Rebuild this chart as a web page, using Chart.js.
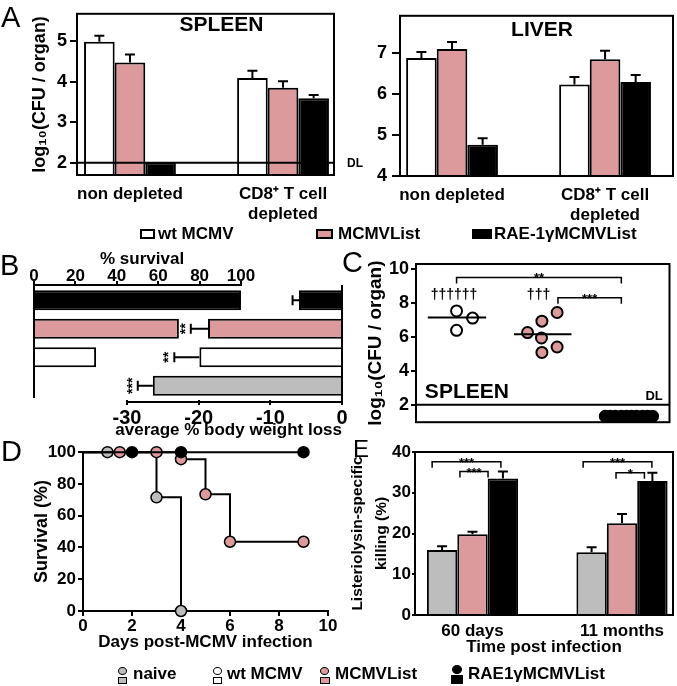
<!DOCTYPE html>
<html>
<head>
<meta charset="utf-8">
<script src="https://cdn.jsdelivr.net/npm/chart.js@4.4.0/dist/chart.umd.min.js"></script>
<style>
  html, body { margin: 0; padding: 0; background: #fff; }
  #page { position: relative; width: 677px; height: 686px; overflow: hidden;
          font-family: 'Liberation Sans', Arial, sans-serif; font-weight: bold; color: #000; }
  canvas { position: absolute; }
  .t { position: absolute; white-space: nowrap; font-size: 17px; line-height: 17px; }
  .letter { position: absolute; font-weight: normal; font-size: 29px; line-height: 29px; }
  .box { position: absolute; box-sizing: border-box; border: 2px solid #000; }
  .dot { position: absolute; box-sizing: border-box; border: 1.5px solid #000; border-radius: 50%; }
  .sq { position: absolute; box-sizing: border-box; border: 1.5px solid #000; }
</style>
</head>
<body>
<div id="page">
  <canvas id="spleen" width="365" height="225" style="left:0;top:0"></canvas>
  <canvas id="liver" width="312" height="225" style="left:365px;top:0"></canvas>
  <canvas id="panelB" width="355" height="200" style="left:0;top:245px"></canvas>
  <canvas id="panelC" width="337" height="185" style="left:340px;top:250px"></canvas>
  <canvas id="panelD" width="345" height="220" style="left:0;top:440px"></canvas>
  <canvas id="panelE" width="337" height="220" style="left:340px;top:440px"></canvas>

  <div class="letter" style="left:1px;top:3px">A</div>
  <div class="letter" style="left:0;top:251px">B</div>
  <div class="letter" style="left:342px;top:248px">C</div>
  <div class="letter" style="left:1px;top:437px">D</div>
  <div class="letter" style="left:353px;top:437px;font-size:24px;line-height:24px">E</div>

  <!-- legend for A -->
  <div class="box" style="left:140px;top:229px;width:15px;height:10px;background:#fff"></div>
  <div class="t" style="left:158px;top:225px">wt MCMV</div>
  <div class="box" style="left:316px;top:229px;width:17px;height:10px;background:#dc9a9c"></div>
  <div class="t" style="left:338px;top:225px">MCMVList</div>
  <div class="box" style="left:472px;top:229px;width:20px;height:10px;background:#000"></div>
  <div class="t" style="left:494px;top:225px">RAE-1γMCMVList</div>

  <div class="t" style="left:100px;top:250px">% survival</div>

  <!-- legend for B-E -->
  <div class="dot" style="left:118px;top:667px;width:9px;height:8px;background:#bdbdbd"></div>
  <div class="sq" style="left:118px;top:677px;width:9px;height:7px;background:#bdbdbd"></div>
  <div class="t" style="left:133px;top:665px">naive</div>
  <div class="dot" style="left:213px;top:667px;width:9px;height:8px;background:#fff"></div>
  <div class="sq" style="left:213px;top:677px;width:9px;height:7px;background:#fff"></div>
  <div class="t" style="left:227px;top:665px">wt MCMV</div>
  <div class="dot" style="left:320px;top:667px;width:9px;height:8px;background:#dc9a9c"></div>
  <div class="sq" style="left:320px;top:677px;width:10px;height:7px;background:#dc9a9c"></div>
  <div class="t" style="left:335px;top:665px">MCMVList</div>
  <div class="dot" style="left:452px;top:665px;width:10px;height:9px;background:#000"></div>
  <div class="sq" style="left:451px;top:675px;width:12px;height:9px;background:#000"></div>
  <div class="t" style="left:468px;top:665px">RAE1γMCMVList</div>
</div>

<script>
const FONT = "'Liberation Sans', Arial, sans-serif";
Chart.defaults.font.family = FONT;
Chart.defaults.font.size = 17;
Chart.defaults.font.weight = 'bold';
Chart.defaults.color = '#000';
Chart.defaults.animation = false;
Chart.defaults.responsive = false;
Chart.defaults.plugins.legend.display = false;
Chart.defaults.plugins.tooltip.enabled = false;

const white = '#ffffff';
const pink = '#dc9a9c';
const black = '#000000';
const grey = '#bdbdbd';

// A: virus titres, spleen and liver
const aGroups = ['non depleted', ['CD8\u207A T cell', 'depleted']];
const groupPos = [0, 1];
const spleenWt = [4.98, 4.09];
const spleenWtErr = [0.15, 0.18];
const spleenList = [4.47, 3.85];
const spleenListErr = [0.2, 0.16];
const spleenRae = [2.0, 3.59];
const spleenRaeErr = [0, 0.08];
const spleenTicks = [2, 3, 4, 5];
const spleenDL = 2;

const liverWt = [6.87, 6.23];
const liverWtErr = [0.15, 0.18];
const liverList = [7.09, 6.84];
const liverListErr = [0.17, 0.21];
const liverRae = [4.76, 6.29];
const liverRaeErr = [0.16, 0.17];
const liverTicks = [4, 5, 6, 7];

// B: survival (%) and average body weight loss (%)
const bGroups = ['RAE-1\u03B3MCMVList', 'MCMVList', 'wt MCMV', 'naive'];
const bColors = [black, pink, white, grey];
const bSurvival = [100, 70, 30, 0];
const bWeightLoss = [-6.0, -18.7, -19.9, -26.4];
const bWeightErr = [0.9, 2.4, 3.5, 2.1];
const bStars = ['', '**', '**', '***'];
const bSurvivalTicks = [0, 20, 40, 60, 80, 100];
const bWeightTicks = [-30, -20, -10, 0];

// C: spleen titres, individual mice
const cWtX = [0.98, 1.17, 0.98];
const cWtY = [7.52, 7.10, 6.38];
const cListX = [1.82, 1.99, 2.17, 1.985, 2.17, 1.99];
const cListY = [6.25, 6.92, 7.43, 5.93, 5.40, 5.08];
const cRaeX = [2.74, 2.80, 2.86, 2.93, 2.99, 3.05, 3.11, 3.18, 3.24, 3.30];
const cRaeY = [1.33, 1.33, 1.33, 1.33, 1.33, 1.33, 1.33, 1.33, 1.33, 1.33];
const cMedianWt = { x: [0.64, 1.33], y: 7.14 };
const cMedianList = { x: [1.66, 2.34], y: 6.15 };
const cTicks = [2, 4, 6, 8, 10];
const cDL = 2;

// D: survival curves
const dRaeDay = [0, 2, 4, 9];
const dRaeSurv = [100, 100, 100, 100];
const dListDay = [0, 1.5, 3, 4, 5, 6, 9];
const dListSurv = [100, 100, 100, 95.6, 73.5, 43.6, 43.6];
const dNaiveDay = [0, 1, 3, 4];
const dNaiveSurv = [100, 100, 71.6, 0];
const dDayTicks = [0, 2, 4, 6, 8, 10];
const dSurvTicks = [0, 20, 40, 60, 80, 100];

// E: listeriolysin-specific killing (%)
const eGroups = ['60 days', '11 months'];
const eNaive = [15.95, 15.4];
const eNaiveErr = [0.95, 1.2];
const eList = [19.8, 22.5];
const eListErr = [0.65, 2.3];
const eRae = [33.5, 32.9];
const eRaeErr = [1.7, 2.0];
const eTicks = [0, 10, 20, 30, 40];

function xy(xs, ys) { return xs.map((x, i) => ({ x: x, y: ys[i] })); }
function fixTicks(values) { return s => { s.ticks = values.map(v => ({ value: v })); }; }
function fixWidth(w) { return s => { s.width = w; }; }
function fixHeight(h) { return s => { s.height = h; }; }

// error bars, detection limits, frames, brackets and notes
const figure = {
  id: 'figure',
  afterDatasetsDraw(chart, args, o) {
    const ctx = chart.ctx, a = chart.chartArea;
    const sx = chart.scales.x, sy = chart.scales.y;
    ctx.save();
    ctx.strokeStyle = '#000';
    ctx.fillStyle = '#000';
    ctx.lineWidth = 2;
    (o.hlines || []).forEach(v => {
      const y = sy.getPixelForValue(v);
      ctx.beginPath(); ctx.moveTo(a.left, y); ctx.lineTo(a.right, y); ctx.stroke();
    });
    (o.errors || []).forEach((errs, di) => {
      if (!errs) return;
      const meta = chart.getDatasetMeta(di);
      const ds = chart.data.datasets[di];
      meta.data.forEach((el, j) => {
        const e = errs[j];
        if (!e) return;
        ctx.beginPath();
        if (o.horizontal) {
          const end = chart.scales[meta.xAxisID].getPixelForValue(ds.data[j] - e);
          ctx.moveTo(el.x, el.y); ctx.lineTo(end, el.y);
          ctx.moveTo(end, el.y - 5); ctx.lineTo(end, el.y + 5);
        } else {
          const end = sy.getPixelForValue(ds.data[j].y + e);
          ctx.moveTo(el.x, el.y); ctx.lineTo(el.x, end);
          ctx.moveTo(el.x - 5, end); ctx.lineTo(el.x + 5, end);
        }
        ctx.stroke();
      });
    });
    if (o.frame) ctx.strokeRect(a.left, a.top, a.right - a.left, a.bottom - a.top);
    (o.brackets || []).forEach(b => {
      const x1 = sx.getPixelForValue(b.x1), x2 = sx.getPixelForValue(b.x2);
      const y = sy.getPixelForValue(b.y);
      ctx.lineWidth = 1.5;
      ctx.beginPath();
      ctx.moveTo(x1, y + 6); ctx.lineTo(x1, y); ctx.lineTo(x2, y); ctx.lineTo(x2, y + 6);
      ctx.stroke();
      ctx.font = 'bold 13px ' + FONT;
      ctx.textAlign = 'center';
      ctx.textBaseline = 'alphabetic';
      ctx.fillText(b.label, (x1 + x2) / 2, y + 5);
    });
    (o.notes || []).forEach(n => {
      ctx.font = 'bold ' + n.size + 'px ' + FONT;
      ctx.textAlign = n.align || 'center';
      ctx.textBaseline = 'alphabetic';
      ctx.fillText(n.text, sx.getPixelForValue(n.x), sy.getPixelForValue(n.y));
    });
    if (o.horizontal && o.stars) {
      ctx.font = 'bold 14px ' + FONT;
      ctx.textAlign = 'center';
      ctx.textBaseline = 'middle';
      const meta = chart.getDatasetMeta(1);
      meta.data.forEach((el, j) => {
        if (!o.stars[j]) return;
        const end = sx.getPixelForValue(bWeightLoss[j] - bWeightErr[j]);
        ctx.save();
        ctx.translate(end - 5, el.y);
        ctx.rotate(-Math.PI / 2);
        ctx.fillText(o.stars[j], 0, 0);
        ctx.restore();
      });
    }
    ctx.restore();
  }
};

function barSet(values, color, base) {
  return {
    data: xy(groupPos, values), backgroundColor: color, borderColor: '#000', borderWidth: 2,
    categoryPercentage: 0.6, barPercentage: 1, base: base
  };
}

function organChart(id, opt) {
  return new Chart(document.getElementById(id), {
    type: 'bar',
    data: { datasets: opt.sets },
    options: {
      layout: { padding: opt.padding },
      scales: {
        x: {
          type: 'linear', min: opt.xMin, max: opt.xMax, offset: false,
          afterBuildTicks: fixTicks(groupPos),
          ticks: { callback: v => aGroups[v], padding: 9, autoSkip: false, maxRotation: 0 },
          grid: { display: false, drawTicks: false },
          border: { display: false },
          afterFit: fixHeight(opt.xHeight)
        },
        y: {
          min: opt.yMin, max: opt.yMax,
          afterBuildTicks: fixTicks(opt.ticks),
          ticks: { padding: opt.tickPad, font: { size: 18 } },
          grid: { drawOnChartArea: false, tickLength: opt.tickLen, color: '#000', lineWidth: 2 },
          border: { display: false },
          title: opt.title,
          afterFit: fixWidth(opt.yWidth)
        }
      },
      plugins: { figure: opt.figure }
    },
    plugins: [figure]
  });
}

organChart('spleen', {
  sets: [
    barSet(spleenWt, white, 1.7),
    barSet(spleenList, pink, 1.7),
    barSet(spleenRae, black, 1.7)
  ],
  padding: { top: 9, right: 31, left: 0, bottom: 0 },
  xMin: -0.346, xMax: 1.333, xHeight: 50,
  yMin: 1.7, yMax: 5.67, ticks: spleenTicks, yWidth: 77, tickLen: 7, tickPad: 3,
  title: { display: true, text: 'log\u2081\u2080(CFU / organ)', font: { size: 18 }, padding: { top: 29, bottom: 0 } },
  figure: {
    frame: true,
    hlines: [spleenDL],
    errors: [spleenWtErr, spleenListErr, spleenRaeErr],
    notes: [
      { text: 'SPLEEN', x: 0.598, y: 5.24, size: 21 },
      { text: 'DL', x: 1.418, y: 1.89, size: 12, align: 'left' }
    ]
  }
});

organChart('liver', {
  sets: [
    barSet(liverWt, white, 4),
    barSet(liverList, pink, 4),
    barSet(liverRae, black, 4)
  ],
  padding: { top: 6, right: 4, left: 0, bottom: 0 },
  xMin: -0.34, xMax: 1.444, xHeight: 49,
  yMin: 4, yMax: 7.9, ticks: liverTicks, yWidth: 35, tickLen: 8, tickPad: 5,
  title: { display: false },
  figure: {
    frame: true,
    errors: [liverWtErr, liverListErr, liverRaeErr],
    notes: [{ text: 'LIVER', x: 0.588, y: 7.42, size: 21 }]
  }
});

// B: two value axes sharing one row per group
const bAxes = {
  id: 'bAxes',
  afterDatasetsDraw(chart) {
    const { ctx, chartArea: a, scales } = chart;
    const top = a.top - 1, bottom = a.bottom + 2;
    const s0 = scales.x2.getPixelForValue(bSurvivalTicks[0]);
    const s1 = scales.x2.getPixelForValue(bSurvivalTicks[bSurvivalTicks.length - 1]);
    const w0 = scales.x.getPixelForValue(bWeightTicks[0]);
    const w1 = scales.x.getPixelForValue(0);
    ctx.save();
    ctx.strokeStyle = '#000';
    ctx.lineWidth = 2;
    ctx.beginPath();
    ctx.moveTo(s1, top); ctx.lineTo(s0, top); ctx.lineTo(s0, a.bottom - 2);
    ctx.moveTo(w0, bottom); ctx.lineTo(w1, bottom); ctx.lineTo(w1, top);
    ctx.stroke();
    ctx.restore();
  }
};

new Chart(document.getElementById('panelB'), {
  type: 'bar',
  data: {
    labels: bGroups,
    datasets: [
      { data: bSurvival, xAxisID: 'x2', backgroundColor: bColors, borderColor: '#000', borderWidth: 2,
        grouped: false, categoryPercentage: 0.7, barPercentage: 1 },
      { data: bWeightLoss, xAxisID: 'x', backgroundColor: bColors, borderColor: '#000', borderWidth: 2,
        grouped: false, categoryPercentage: 0.7, barPercentage: 1 }
    ]
  },
  options: {
    indexAxis: 'y',
    layout: { padding: { left: 34, right: 13, top: 0, bottom: 0 } },
    scales: {
      y: { display: false },
      x: {
        type: 'linear', position: 'bottom', min: -42.98, max: 0,
        afterBuildTicks: fixTicks(bWeightTicks),
        ticks: { font: { size: 20 }, padding: 1 },
        grid: { drawOnChartArea: false, tickLength: 5, color: '#000', lineWidth: 2 },
        border: { display: false },
        title: { display: true, text: 'average % body weight loss', align: 'end', padding: { top: 0, bottom: 4 } },
        afterFit: fixHeight(45)
      },
      x2: {
        type: 'linear', position: 'top', min: 0, max: 148.8,
        afterBuildTicks: fixTicks(bSurvivalTicks),
        ticks: { padding: -6 },
        grid: { drawOnChartArea: false, tickLength: 5, color: '#000', lineWidth: 2 },
        border: { display: false },
        afterFit: fixHeight(41)
      }
    },
    plugins: { figure: { horizontal: true, errors: [null, bWeightErr], stars: bStars } }
  },
  plugins: [figure, bAxes]
});

// C
new Chart(document.getElementById('panelC'), {
  type: 'scatter',
  data: {
    datasets: [
      { data: xy(cMedianWt.x, [cMedianWt.y, cMedianWt.y]), showLine: true, borderColor: '#000', borderWidth: 2, pointRadius: 0 },
      { data: xy(cMedianList.x, [cMedianList.y, cMedianList.y]), showLine: true, borderColor: '#000', borderWidth: 2, pointRadius: 0 },
      { data: xy(cWtX, cWtY), backgroundColor: white, borderColor: '#000', borderWidth: 2, pointRadius: 5.5, clip: false },
      { data: xy(cListX, cListY), backgroundColor: pink, borderColor: '#000', borderWidth: 2, pointRadius: 5.5, clip: false },
      { data: xy(cRaeX, cRaeY), backgroundColor: black, borderColor: '#000', borderWidth: 2, pointRadius: 5.5, clip: false }
    ]
  },
  options: {
    layout: { padding: { top: 14, right: 5, left: 0, bottom: 7 } },
    scales: {
      x: { type: 'linear', min: 0.5, max: 3.5, display: false },
      y: {
        min: 0.98, max: 10.28,
        afterBuildTicks: fixTicks(cTicks),
        ticks: { padding: 2, font: { size: 18 } },
        grid: { drawOnChartArea: false, tickLength: 5, color: '#000', lineWidth: 2 },
        border: { display: false },
        title: { display: true, text: 'log\u2081\u2080(CFU / organ)', font: { size: 19 }, padding: { top: 24.6, bottom: 0 } },
        afterFit: fixWidth(76)
      }
    },
    plugins: {
      figure: {
        frame: true,
        hlines: [cDL],
        brackets: [
          { x1: 0.98, x2: 2.93, y: 9.49, label: '**' },
          { x1: 2.18, x2: 2.93, y: 8.29, label: '***' }
        ],
        notes: [
          { text: '\u2020\u2020\u2020\u2020\u2020\u2020', x: 0.95, y: 8.24, size: 14 },
          { text: '\u2020\u2020\u2020', x: 1.95, y: 8.24, size: 14 },
          { text: 'SPLEEN', x: 0.605, y: 2.39, size: 21, align: 'left' },
          { text: 'DL', x: 3.42, y: 2.28, size: 13, align: 'right' }
        ]
      }
    }
  },
  plugins: [figure]
});

// D
function survSet(days, surv, color) {
  return {
    data: xy(days, surv), stepped: 'before', borderColor: '#000', borderWidth: 2,
    pointBackgroundColor: color, pointBorderColor: '#000', pointBorderWidth: 1.5,
    pointRadius: c => (c.dataIndex === 0 ? 0 : 5.5), clip: false
  };
}

new Chart(document.getElementById('panelD'), {
  type: 'line',
  data: {
    datasets: [
      survSet(dRaeDay, dRaeSurv, black),
      survSet(dListDay, dListSurv, pink),
      survSet(dNaiveDay, dNaiveSurv, grey)
    ]
  },
  options: {
    layout: { padding: { top: 12, right: 17, left: 0, bottom: 0 } },
    scales: {
      x: {
        type: 'linear', min: 0, max: 10,
        afterBuildTicks: fixTicks(dDayTicks),
        ticks: { padding: 0 },
        grid: { drawOnChartArea: false, tickLength: 5, color: '#000', lineWidth: 2 },
        border: { color: '#000', width: 2 },
        title: { display: true, text: 'Days post-MCMV infection', padding: { top: 0, bottom: 7 } },
        afterFit: fixHeight(49)
      },
      y: {
        min: 0, max: 100,
        afterBuildTicks: fixTicks(dSurvTicks),
        ticks: { padding: 2 },
        grid: { drawOnChartArea: false, tickLength: 5, color: '#000', lineWidth: 2 },
        border: { color: '#000', width: 2 },
        title: { display: true, text: 'Survival (%)', font: { size: 18 }, padding: { top: 31.7, bottom: 0 } },
        afterFit: fixWidth(83)
      }
    }
  }
});

// E
function eSet(values, color) {
  return {
    data: xy(groupPos, values), backgroundColor: color, borderColor: '#000', borderWidth: 2,
    categoryPercentage: 0.61, barPercentage: 1
  };
}

new Chart(document.getElementById('panelE'), {
  type: 'bar',
  data: { datasets: [eSet(eNaive, grey), eSet(eList, pink), eSet(eRae, black)] },
  options: {
    layout: { padding: { top: 12, right: 4, left: 0, bottom: 0 } },
    scales: {
      x: {
        type: 'linear', min: -0.3846, max: 1.3411, offset: false,
        afterBuildTicks: fixTicks(groupPos),
        ticks: { callback: v => eGroups[v], padding: 6, autoSkip: false, maxRotation: 0 },
        grid: { display: false, drawTicks: false },
        border: { display: false },
        title: { display: true, text: 'Time post infection', padding: { top: 0, bottom: 2 } },
        afterFit: fixHeight(45)
      },
      y: {
        min: 0, max: 40,
        afterBuildTicks: fixTicks(eTicks),
        ticks: { padding: 1 },
        grid: { drawOnChartArea: false, tickLength: 3, color: '#000', lineWidth: 2 },
        border: { display: false },
        title: { display: true, text: ['Listeriolysin-specific', 'killing (%)'], font: { size: 15.5, lineHeight: 1.5 }, padding: { top: 6.4, bottom: 0 } },
        afterFit: fixWidth(75)
      }
    },
    plugins: {
      figure: {
        frame: true,
        errors: [eNaiveErr, eListErr, eRaeErr],
        brackets: [
          { x1: -0.27, x2: 0.19, y: 37.6, label: '***' },
          { x1: -0.084, x2: 0.104, y: 35.2, label: '***' },
          { x1: 0.74, x2: 1.2, y: 37.6, label: '***' },
          { x1: 0.96, x2: 1.15, y: 34.9, label: '*' }
        ]
      }
    }
  },
  plugins: [figure]
});
</script>
</body>
</html>
